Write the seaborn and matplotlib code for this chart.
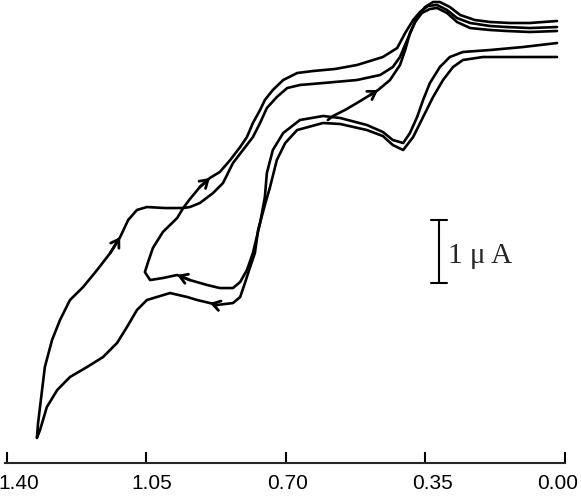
import numpy as np
import pandas as pd
import matplotlib
matplotlib.use("Agg")
import matplotlib.pyplot as plt
import seaborn as sns
from matplotlib.transforms import ScaledTranslation


# potential (V) and current (uA)

# first short scan, starting near 0.6 V
E_start = [0.595, 0.582, 0.552, 0.522, 0.489, 0.469, 0.439, 0.414, 0.401, 0.389,
           0.371, 0.351, 0.331, 0.314, 0.289, 0.263, 0.226, 0.188, 0.138, 0.088, 0.020]
I_start = [2.857, 2.921, 3.016, 3.127, 3.254, 3.333, 3.492, 3.730, 3.968, 4.238,
           4.492, 4.651, 4.730, 4.730, 4.651, 4.524, 4.444, 4.413, 4.397, 4.397, 4.429]

# cycle switched at about 1.05 V
E_cyc1 = [0.020, 0.105, 0.188, 0.256, 0.289, 0.314, 0.339, 0.356, 0.371, 0.389,
          0.406, 0.432, 0.457, 0.497, 0.564, 0.607, 0.665, 0.707, 0.733, 0.748,
          0.753, 0.765, 0.783, 0.798, 0.815, 0.833, 0.866, 0.898, 0.941, 0.973,
          1.009, 1.041, 1.054, 1.046, 1.034, 1.009, 0.973, 0.958, 0.941, 0.916,
          0.891, 0.866, 0.840, 0.815, 0.798, 0.783, 0.765, 0.753, 0.733, 0.707,
          0.672, 0.632, 0.577, 0.522, 0.457, 0.421, 0.401, 0.381, 0.364, 0.344,
          0.321, 0.296, 0.271, 0.238, 0.188, 0.146, 0.088, 0.020]
I_cyc1 = [4.079, 4.016, 3.968, 3.937, 3.857, 3.698, 3.444, 3.175, 2.905, 2.651,
          2.492, 2.540, 2.667, 2.778, 2.889, 2.921, 2.857, 2.651, 2.381, 2.016,
          1.635, 1.222, 0.746, 0.476, 0.286, 0.190, 0.190, 0.238, 0.317, 0.397,
          0.349, 0.317, 0.444, 0.603, 0.825, 1.079, 1.302, 1.460, 1.603, 1.794,
          1.937, 2.032, 2.222, 2.429, 2.587, 2.810, 3.016, 3.175, 3.333, 3.492,
          3.603, 3.635, 3.667, 3.730, 3.857, 4.000, 4.238, 4.444, 4.571, 4.667,
          4.683, 4.603, 4.476, 4.397, 4.349, 4.333, 4.317, 4.333]

# cycle switched at about 1.32 V
E_cyc2 = [0.020, 0.105, 0.206, 0.256, 0.281, 0.306, 0.331, 0.356, 0.381, 0.406,
          0.432, 0.457, 0.497, 0.564, 0.607, 0.672, 0.702, 0.723, 0.740, 0.753,
          0.770, 0.778, 0.790, 0.803, 0.815, 0.833, 0.873, 0.891, 0.923, 0.948,
          0.991, 1.024, 1.049, 1.074, 1.099, 1.124, 1.159, 1.199, 1.242, 1.274,
          1.300, 1.317, 1.325, 1.322, 1.312, 1.305, 1.287, 1.267, 1.242, 1.209,
          1.174, 1.141, 1.116, 1.096, 1.074, 1.049, 1.004, 0.958, 0.941, 0.916,
          0.883, 0.858, 0.833, 0.808, 0.783, 0.765, 0.748, 0.723, 0.697, 0.665,
          0.607, 0.522, 0.464, 0.432, 0.414, 0.396, 0.376, 0.359, 0.339, 0.321,
          0.296, 0.271, 0.238, 0.188, 0.146, 0.088, 0.020]
I_cyc2 = [3.857, 3.857, 3.857, 3.810, 3.698, 3.492, 3.222, 2.905, 2.587, 2.381,
          2.460, 2.603, 2.698, 2.794, 2.810, 2.698, 2.492, 2.222, 1.794, 1.508,
          1.111, 0.746, 0.524, 0.270, 0.048, -0.048, -0.079, -0.048, 0.000, 0.048,
          0.111, 0.048, 0.000, -0.159, -0.429, -0.683, -0.905, -1.063, -1.222, -1.429,
          -1.698, -2.063, -2.190, -1.952, -1.429, -1.063, -0.635, -0.317, 0.000, 0.206,
          0.476, 0.746, 1.000, 1.270, 1.429, 1.476, 1.460, 1.460, 1.476, 1.540,
          1.698, 1.857, 2.175, 2.381, 2.587, 2.810, 3.048, 3.222, 3.365, 3.413,
          3.444, 3.492, 3.571, 3.698, 3.857, 4.127, 4.413, 4.556, 4.619, 4.635,
          4.556, 4.413, 4.317, 4.286, 4.270, 4.254, 4.270]

tick_values = [1.40, 1.05, 0.70, 0.35, 0.00]
tick_labels = ["1.40", "1.05", "0.70", "0.35", "0.00"]
scale_bar_ua = 1.0

# scan direction arrows: (scan, potential, current) of the arrow tip
arrows = [("cycle2", 1.116, 1.000),
          ("cycle1", 0.891, 1.937),
          ("start", 0.469, 3.333),
          ("cycle1", 0.973, 0.397),
          ("cycle2", 0.891, -0.048)]


scans = {"start": (E_start, I_start), "cycle1": (E_cyc1, I_cyc1), "cycle2": (E_cyc2, I_cyc2)}
df = pd.concat(
    [pd.DataFrame({"E": e, "I": i, "scan": name, "order": range(len(e))})
     for name, (e, i) in scans.items()],
    ignore_index=True,
)


sns.set_style("white")
plt.rcParams["font.family"] = ["Liberation Sans", "DejaVu Sans"]

fig = plt.figure(figsize=(5.81, 5.01), dpi=100)
ax = fig.add_axes([5 / 581, 38 / 501, 560 / 581, 463 / 501])

sns.lineplot(data=df, x="E", y="I", units="scan", estimator=None, sort=False,
             color="black", linewidth=1.9, ax=ax, legend=False)
for line in ax.lines:
    line.set_clip_on(False)
    line.set_solid_joinstyle("round")

for name, e_tip, i_tip in arrows:
    e, i = map(np.asarray, scans[name])
    k = int(np.argmin(np.hypot(e - e_tip, i - i_tip)))
    ax.annotate("", xy=(e[k], i[k]), xytext=(e[k - 1], i[k - 1]),
                arrowprops=dict(arrowstyle="->,head_length=0.55,head_width=0.35",
                                color="black", lw=2.0, shrinkA=0, shrinkB=0),
                annotation_clip=False)

# 1 uA scale bar
bar_e, bar_top = 0.316, 1.27
ax.plot([bar_e, bar_e], [bar_top, bar_top - scale_bar_ua], color="black", lw=1.5)
ax.plot([bar_e + 0.02, bar_e - 0.02], [bar_top, bar_top], color="black", lw=1.5)
ax.plot([bar_e + 0.02, bar_e - 0.02], [bar_top - scale_bar_ua] * 2, color="black", lw=1.5)
ax.text(0.293, 0.587, "1 μ A", fontsize=21, family=["Liberation Serif", "DejaVu Serif"],
        ha="left", va="baseline")

ax.set_xlim(1.405, 0.0)
ax.set_ylim(-2.587, 4.762)
ax.set_yticks([])
ax.set_xticks(tick_values)
ax.set_xticklabels(tick_labels)
ax.set_xlabel("")
ax.set_ylabel("")
for side in ["top", "left", "right"]:
    ax.spines[side].set_visible(False)
ax.spines["bottom"].set_linewidth(1.5)
ax.tick_params(axis="x", direction="in", length=8, width=1.5, labelsize=15,
               pad=8, bottom=True, colors="black")

# tick labels sit slightly off-centre in the original
for lab, dx in zip(ax.get_xticklabels(), [12, 5, 2, 7, -7]):
    lab.set_transform(lab.get_transform() + ScaledTranslation(dx / 100, 0, fig.dpi_scale_trans))

fig.savefig("out.png", dpi=100)
plt.close(fig)
